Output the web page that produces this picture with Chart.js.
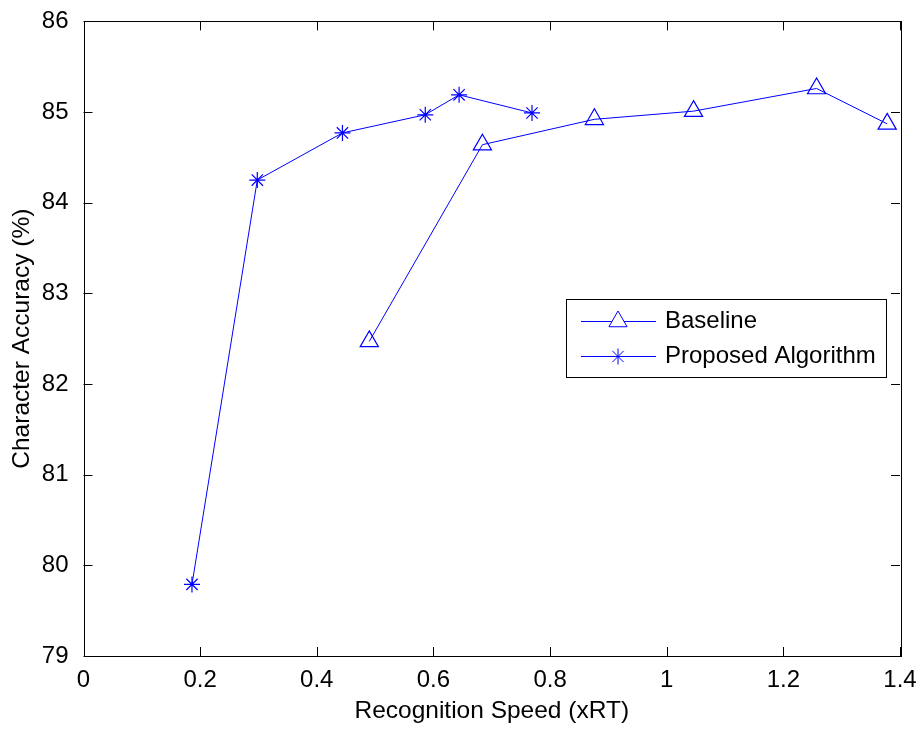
<!DOCTYPE html>
<html>
<head>
<meta charset="utf-8">
<title>Recognition Speed vs Character Accuracy</title>
<script src="https://cdn.jsdelivr.net/npm/chart.js@4/dist/chart.umd.min.js"></script>
<style>
  html, body { margin: 0; padding: 0; background: #fff; }
  canvas { display: block; }
</style>
</head>
<body>
<canvas id="chart" width="919" height="729"></canvas>
<script>
// Values
const baselineSpeed = [0.490, 0.684, 0.876, 1.046, 1.257, 1.378];
const baselineAcc = [82.47, 84.64, 84.92, 85.01, 85.26, 84.87];
const proposedSpeed = [0.186, 0.298, 0.444, 0.586, 0.644, 0.769];
const proposedAcc = [79.79, 84.25, 84.77, 84.97, 85.19, 84.99];

const seriesNames = ['Baseline', 'Proposed Algorithm'];
const xTitle = 'Recognition Speed (xRT)';
const yTitle = 'Character Accuracy (%)';

const FONT = '"Liberation Sans", Arial, Helvetica, sans-serif';
const BLUE = '#0000ff';
const TICK_LEN = 9;

const toPoints = (xs, ys) => xs.map((x, i) => ({ x: x, y: ys[i] }));

// MATLAB-style box with inward ticks on all four sides
const frameTicks = {
  id: 'frameTicks',
  afterDatasetsDraw(chart) {
    const ctx = chart.ctx;
    const a = chart.chartArea;
    const xs = chart.scales.x;
    const ys = chart.scales.y;
    ctx.save();
    ctx.strokeStyle = '#000';
    ctx.lineWidth = 1;
    ctx.beginPath();
    xs.ticks.forEach((t) => {
      const px = Math.round(xs.getPixelForValue(t.value)) + 0.5;
      ctx.moveTo(px, a.bottom);
      ctx.lineTo(px, a.bottom - TICK_LEN);
      ctx.moveTo(px, a.top);
      ctx.lineTo(px, a.top + TICK_LEN);
    });
    ys.ticks.forEach((t) => {
      const py = Math.round(ys.getPixelForValue(t.value)) + 0.5;
      ctx.moveTo(a.left, py);
      ctx.lineTo(a.left + TICK_LEN, py);
      ctx.moveTo(a.right, py);
      ctx.lineTo(a.right - TICK_LEN, py);
    });
    ctx.stroke();
    ctx.strokeRect(Math.round(a.left) + 0.5, Math.round(a.top) + 0.5,
      Math.round(a.right - a.left), Math.round(a.bottom - a.top));
    ctx.restore();
  }
};

// Legend box inside the plot area, like the original figure
const insideLegend = {
  id: 'insideLegend',
  afterDraw(chart) {
    const ctx = chart.ctx;
    const box = { left: 566, top: 299.5, width: 320, height: 78 };
    const rows = [321, 356];
    ctx.save();
    ctx.fillStyle = '#fff';
    ctx.fillRect(box.left, box.top, box.width, box.height);
    ctx.strokeStyle = '#000';
    ctx.lineWidth = 1;
    ctx.strokeRect(box.left + 0.5, box.top, box.width, box.height);
    chart.data.datasets.forEach((ds, i) => {
      const y = rows[i] + 0.5;
      ctx.strokeStyle = ds.borderColor;
      ctx.lineWidth = ds.borderWidth;
      ctx.beginPath();
      ctx.moveTo(581, y);
      ctx.lineTo(656, y);
      ctx.stroke();
      Chart.helpers.drawPoint(ctx, {
        pointStyle: ds.pointStyle,
        radius: ds.pointRadius,
        borderWidth: ds.pointBorderWidth
      }, 618, y);
      ctx.fillStyle = '#000';
      ctx.font = '24px ' + FONT;
      ctx.textBaseline = 'middle';
      ctx.textAlign = 'left';
      ctx.fillText(ds.label, 665, rows[i]);
    });
    ctx.restore();
  }
};

const ctx = document.getElementById('chart').getContext('2d');
new Chart(ctx, {
  type: 'line',
  data: {
    datasets: [
      {
        label: seriesNames[0],
        data: toPoints(baselineSpeed, baselineAcc),
        borderColor: BLUE,
        borderWidth: 1,
        backgroundColor: 'rgba(0,0,0,0)',
        pointStyle: 'triangle',
        pointRadius: 10.5,
        pointBorderWidth: 1.2,
        pointBorderColor: BLUE,
        pointBackgroundColor: 'rgba(0,0,0,0)',
        tension: 0
      },
      {
        label: seriesNames[1],
        data: toPoints(proposedSpeed, proposedAcc),
        borderColor: BLUE,
        borderWidth: 1,
        backgroundColor: 'rgba(0,0,0,0)',
        pointStyle: 'star',
        pointRadius: 8,
        pointBorderWidth: 1.2,
        pointBorderColor: BLUE,
        pointBackgroundColor: BLUE,
        tension: 0
      }
    ]
  },
  options: {
    responsive: false,
    animation: false,
    devicePixelRatio: 1,
    layout: { padding: { top: 16, right: 19, left: 0, bottom: 0 } },
    plugins: {
      legend: { display: false },
      tooltip: { enabled: false }
    },
    scales: {
      x: {
        type: 'linear',
        min: 0,
        max: 1.4,
        grid: { display: false },
        border: { display: false },
        ticks: {
          stepSize: 0.2,
          color: '#000',
          padding: 2,
          maxRotation: 0,
          font: { family: FONT, size: 24 },
          callback: (v) => String(+v.toFixed(1))
        },
        title: {
          display: true,
          text: xTitle,
          color: '#000',
          font: { family: FONT, size: 24.5 },
          padding: { top: 0, bottom: 3 }
        },
        afterFit: (s) => { s.height = 73; }
      },
      y: {
        type: 'linear',
        min: 79,
        max: 86,
        grid: { display: false },
        border: { display: false },
        ticks: {
          stepSize: 1,
          color: '#000',
          padding: 7,
          font: { family: FONT, size: 24 }
        },
        title: {
          display: true,
          text: yTitle,
          color: '#000',
          font: { family: FONT, size: 24.5 },
          padding: { top: 8, bottom: 0 }
        },
        afterFit: (s) => { s.width = 83.5; }
      }
    }
  },
  plugins: [frameTicks, insideLegend]
});
</script>
</body>
</html>
